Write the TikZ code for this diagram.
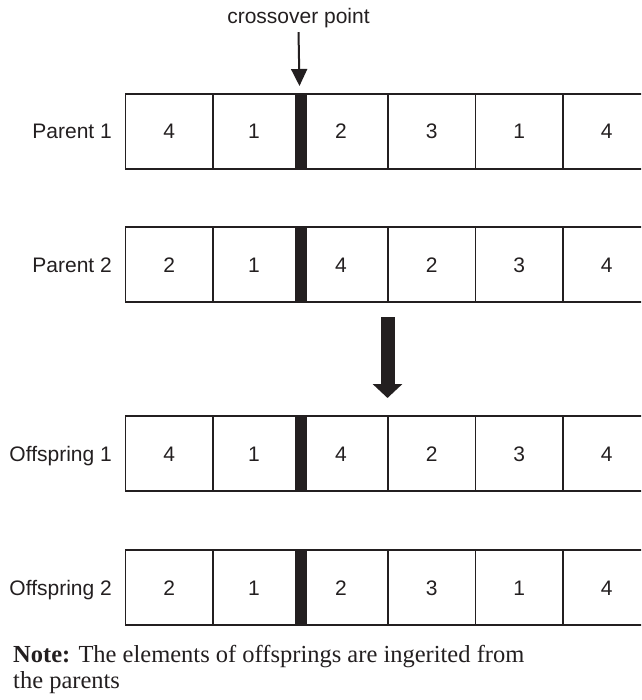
\documentclass[tikz,border=0pt]{standalone}
\usepackage{fontspec}
\setmainfont{Liberation Serif}
\setsansfont{Liberation Sans}
\usetikzlibrary{arrows.meta}
\definecolor{ink}{HTML}{231F20}
\begin{document}
\begin{tikzpicture}[x=1pt,y=-1pt,
  cell/.style={draw=ink, line width=1.8pt, minimum width=87.5pt, minimum height=75pt, inner sep=0pt, outer sep=0pt, anchor=north west},
  digit/.style={font=\sffamily\fontsize{21}{21}\selectfont, text=ink, inner sep=0pt, anchor=base},
  rowlabel/.style={font=\sffamily\fontsize{21}{21}\selectfont, text=ink, inner sep=0pt, anchor=base east},
  bar/.style={fill=ink, draw=none, minimum width=12pt, minimum height=75pt, inner sep=0pt, outer sep=0pt, anchor=north},
  notetext/.style={font=\fontsize{24.5}{27}\selectfont, text=ink, inner sep=0pt, anchor=base west},
  thinarrow/.style={draw=ink, line width=2pt, -{Triangle[width=16pt,length=17pt]}},
  bigarrow/.style={draw=ink, line width=14pt, -{Triangle[width=29pt,length=14pt]}},
]
\useasboundingbox (0,0) rectangle (641,700);
\clip (0,0) rectangle (641,700);

\foreach \r/\y/\lab/\da/\db/\dc/\dd/\de/\df in {
  p1/94/Parent 1/4/1/2/3/1/4,
  p2/227/Parent 2/2/1/4/2/3/4,
  o1/416/Offspring 1/4/1/4/2/3/4,
  o2/550/Offspring 2/2/1/2/3/1/4}{
  \node[rowlabel] (\r-lab) at (112,{\y+45}) {\lab};
  \foreach \i in {1,...,6}{
    \node[cell] (\r-c\i) at ({125.5+(\i-1)*87.5},\y) {};
  }
  \foreach \i/\dg/\cx in {1/\da/169.25, 2/\db/254, 3/\dc/341, 4/\dd/431.75, 5/\de/519.25, 6/\df/606.75}{
    \node[digit] (\r-d\i) at (\cx,{\y+45}) {\dg};
  }
  \node[bar] (\r-bar) at (300.5,\y) {};
}

\node[font=\sffamily\fontsize{21}{21}\selectfont, text=ink, inner sep=0pt, anchor=base] (cp) at (298.5,24) {crossover point};
\coordinate (cptip) at (299.5,86);
\draw[thinarrow] ([yshift=-3.5pt]cp.south) -- (cptip);

\coordinate (bigA) at (387.5,317);
\coordinate (bigB) at (387.5,398);
\draw[bigarrow] (bigA) -- (bigB);

\node[notetext] (note1) at (13,662) {\textbf{Note:} The elements of offsprings are ingerited from};
\node[notetext] (note2) at (13,688) {the parents};
\end{tikzpicture}
\end{document}
